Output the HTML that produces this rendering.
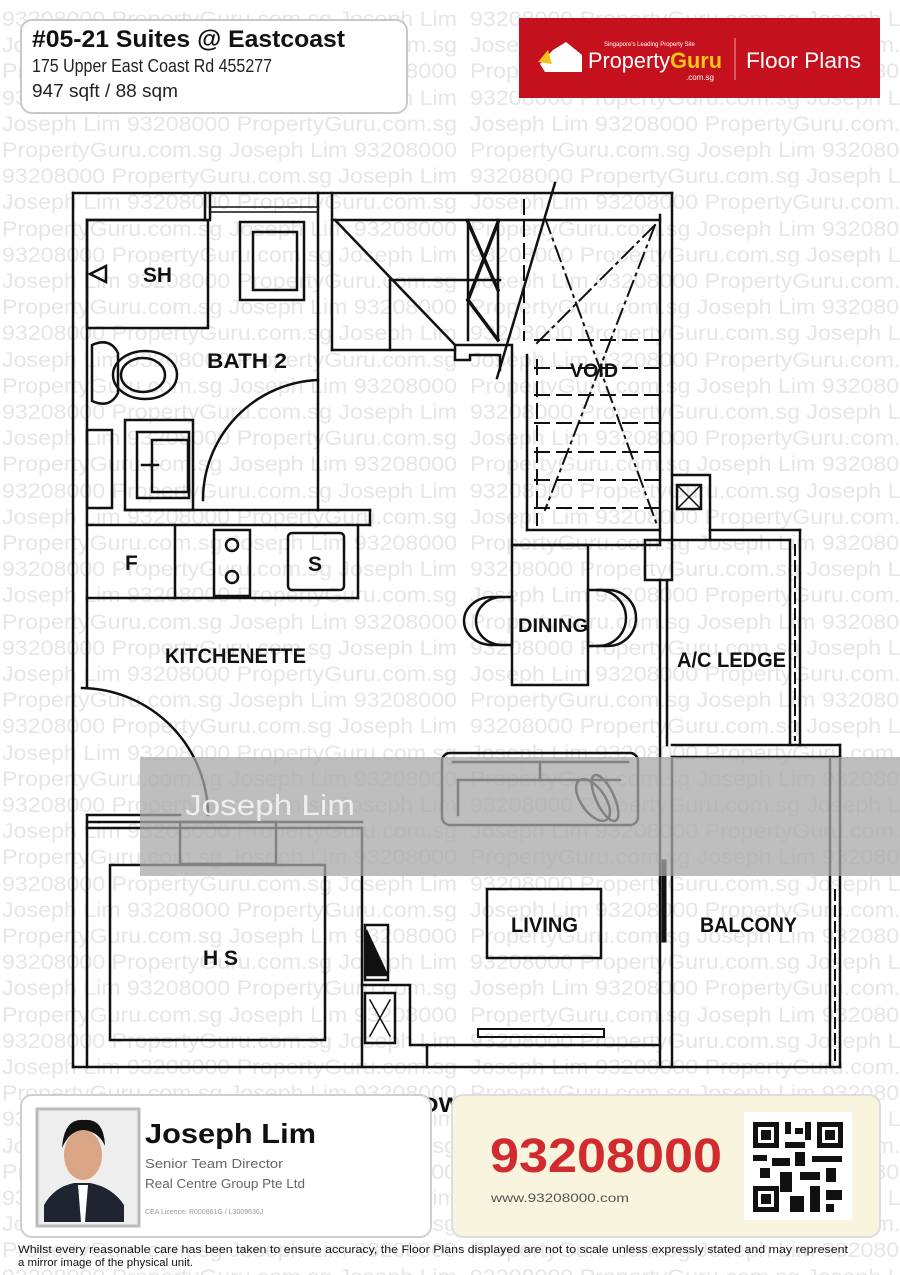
<!DOCTYPE html>
<html><head><meta charset="utf-8"><style>
html,body{margin:0;padding:0;background:#fff;}
svg{display:block}
.w{font-family:"Liberation Sans",sans-serif;font-size:21px;fill:#e6e6e6}
.l{font-family:"Liberation Sans",sans-serif;font-size:21px;font-weight:bold;fill:#111}
</style></head><body>
<svg width="900" height="1275" viewBox="0 0 900 1275" xmlns="http://www.w3.org/2000/svg">
<rect width="900" height="1275" fill="#fff"/>
<g class="w" lengthAdjust="spacingAndGlyphs">
<text x="2" y="26" textLength="455" lengthAdjust="spacingAndGlyphs">93208000 PropertyGuru.com.sg Joseph Lim</text><text x="470" y="26" textLength="455" lengthAdjust="spacingAndGlyphs">93208000 PropertyGuru.com.sg Joseph Lim</text>
<text x="2" y="52" textLength="455" lengthAdjust="spacingAndGlyphs">Joseph Lim 93208000 PropertyGuru.com.sg</text><text x="470" y="52" textLength="455" lengthAdjust="spacingAndGlyphs">Joseph Lim 93208000 PropertyGuru.com.sg</text>
<text x="2" y="78" textLength="455" lengthAdjust="spacingAndGlyphs">PropertyGuru.com.sg Joseph Lim 93208000</text><text x="470" y="78" textLength="455" lengthAdjust="spacingAndGlyphs">PropertyGuru.com.sg Joseph Lim 93208000</text>
<text x="2" y="105" textLength="455" lengthAdjust="spacingAndGlyphs">93208000 PropertyGuru.com.sg Joseph Lim</text><text x="470" y="105" textLength="455" lengthAdjust="spacingAndGlyphs">93208000 PropertyGuru.com.sg Joseph Lim</text>
<text x="2" y="131" textLength="455" lengthAdjust="spacingAndGlyphs">Joseph Lim 93208000 PropertyGuru.com.sg</text><text x="470" y="131" textLength="455" lengthAdjust="spacingAndGlyphs">Joseph Lim 93208000 PropertyGuru.com.sg</text>
<text x="2" y="157" textLength="455" lengthAdjust="spacingAndGlyphs">PropertyGuru.com.sg Joseph Lim 93208000</text><text x="470" y="157" textLength="455" lengthAdjust="spacingAndGlyphs">PropertyGuru.com.sg Joseph Lim 93208000</text>
<text x="2" y="183" textLength="455" lengthAdjust="spacingAndGlyphs">93208000 PropertyGuru.com.sg Joseph Lim</text><text x="470" y="183" textLength="455" lengthAdjust="spacingAndGlyphs">93208000 PropertyGuru.com.sg Joseph Lim</text>
<text x="2" y="209" textLength="455" lengthAdjust="spacingAndGlyphs">Joseph Lim 93208000 PropertyGuru.com.sg</text><text x="470" y="209" textLength="455" lengthAdjust="spacingAndGlyphs">Joseph Lim 93208000 PropertyGuru.com.sg</text>
<text x="2" y="236" textLength="455" lengthAdjust="spacingAndGlyphs">PropertyGuru.com.sg Joseph Lim 93208000</text><text x="470" y="236" textLength="455" lengthAdjust="spacingAndGlyphs">PropertyGuru.com.sg Joseph Lim 93208000</text>
<text x="2" y="262" textLength="455" lengthAdjust="spacingAndGlyphs">93208000 PropertyGuru.com.sg Joseph Lim</text><text x="470" y="262" textLength="455" lengthAdjust="spacingAndGlyphs">93208000 PropertyGuru.com.sg Joseph Lim</text>
<text x="2" y="288" textLength="455" lengthAdjust="spacingAndGlyphs">Joseph Lim 93208000 PropertyGuru.com.sg</text><text x="470" y="288" textLength="455" lengthAdjust="spacingAndGlyphs">Joseph Lim 93208000 PropertyGuru.com.sg</text>
<text x="2" y="314" textLength="455" lengthAdjust="spacingAndGlyphs">PropertyGuru.com.sg Joseph Lim 93208000</text><text x="470" y="314" textLength="455" lengthAdjust="spacingAndGlyphs">PropertyGuru.com.sg Joseph Lim 93208000</text>
<text x="2" y="340" textLength="455" lengthAdjust="spacingAndGlyphs">93208000 PropertyGuru.com.sg Joseph Lim</text><text x="470" y="340" textLength="455" lengthAdjust="spacingAndGlyphs">93208000 PropertyGuru.com.sg Joseph Lim</text>
<text x="2" y="367" textLength="455" lengthAdjust="spacingAndGlyphs">Joseph Lim 93208000 PropertyGuru.com.sg</text><text x="470" y="367" textLength="455" lengthAdjust="spacingAndGlyphs">Joseph Lim 93208000 PropertyGuru.com.sg</text>
<text x="2" y="393" textLength="455" lengthAdjust="spacingAndGlyphs">PropertyGuru.com.sg Joseph Lim 93208000</text><text x="470" y="393" textLength="455" lengthAdjust="spacingAndGlyphs">PropertyGuru.com.sg Joseph Lim 93208000</text>
<text x="2" y="419" textLength="455" lengthAdjust="spacingAndGlyphs">93208000 PropertyGuru.com.sg Joseph Lim</text><text x="470" y="419" textLength="455" lengthAdjust="spacingAndGlyphs">93208000 PropertyGuru.com.sg Joseph Lim</text>
<text x="2" y="445" textLength="455" lengthAdjust="spacingAndGlyphs">Joseph Lim 93208000 PropertyGuru.com.sg</text><text x="470" y="445" textLength="455" lengthAdjust="spacingAndGlyphs">Joseph Lim 93208000 PropertyGuru.com.sg</text>
<text x="2" y="471" textLength="455" lengthAdjust="spacingAndGlyphs">PropertyGuru.com.sg Joseph Lim 93208000</text><text x="470" y="471" textLength="455" lengthAdjust="spacingAndGlyphs">PropertyGuru.com.sg Joseph Lim 93208000</text>
<text x="2" y="498" textLength="455" lengthAdjust="spacingAndGlyphs">93208000 PropertyGuru.com.sg Joseph Lim</text><text x="470" y="498" textLength="455" lengthAdjust="spacingAndGlyphs">93208000 PropertyGuru.com.sg Joseph Lim</text>
<text x="2" y="524" textLength="455" lengthAdjust="spacingAndGlyphs">Joseph Lim 93208000 PropertyGuru.com.sg</text><text x="470" y="524" textLength="455" lengthAdjust="spacingAndGlyphs">Joseph Lim 93208000 PropertyGuru.com.sg</text>
<text x="2" y="550" textLength="455" lengthAdjust="spacingAndGlyphs">PropertyGuru.com.sg Joseph Lim 93208000</text><text x="470" y="550" textLength="455" lengthAdjust="spacingAndGlyphs">PropertyGuru.com.sg Joseph Lim 93208000</text>
<text x="2" y="576" textLength="455" lengthAdjust="spacingAndGlyphs">93208000 PropertyGuru.com.sg Joseph Lim</text><text x="470" y="576" textLength="455" lengthAdjust="spacingAndGlyphs">93208000 PropertyGuru.com.sg Joseph Lim</text>
<text x="2" y="602" textLength="455" lengthAdjust="spacingAndGlyphs">Joseph Lim 93208000 PropertyGuru.com.sg</text><text x="470" y="602" textLength="455" lengthAdjust="spacingAndGlyphs">Joseph Lim 93208000 PropertyGuru.com.sg</text>
<text x="2" y="629" textLength="455" lengthAdjust="spacingAndGlyphs">PropertyGuru.com.sg Joseph Lim 93208000</text><text x="470" y="629" textLength="455" lengthAdjust="spacingAndGlyphs">PropertyGuru.com.sg Joseph Lim 93208000</text>
<text x="2" y="655" textLength="455" lengthAdjust="spacingAndGlyphs">93208000 PropertyGuru.com.sg Joseph Lim</text><text x="470" y="655" textLength="455" lengthAdjust="spacingAndGlyphs">93208000 PropertyGuru.com.sg Joseph Lim</text>
<text x="2" y="681" textLength="455" lengthAdjust="spacingAndGlyphs">Joseph Lim 93208000 PropertyGuru.com.sg</text><text x="470" y="681" textLength="455" lengthAdjust="spacingAndGlyphs">Joseph Lim 93208000 PropertyGuru.com.sg</text>
<text x="2" y="707" textLength="455" lengthAdjust="spacingAndGlyphs">PropertyGuru.com.sg Joseph Lim 93208000</text><text x="470" y="707" textLength="455" lengthAdjust="spacingAndGlyphs">PropertyGuru.com.sg Joseph Lim 93208000</text>
<text x="2" y="733" textLength="455" lengthAdjust="spacingAndGlyphs">93208000 PropertyGuru.com.sg Joseph Lim</text><text x="470" y="733" textLength="455" lengthAdjust="spacingAndGlyphs">93208000 PropertyGuru.com.sg Joseph Lim</text>
<text x="2" y="760" textLength="455" lengthAdjust="spacingAndGlyphs">Joseph Lim 93208000 PropertyGuru.com.sg</text><text x="470" y="760" textLength="455" lengthAdjust="spacingAndGlyphs">Joseph Lim 93208000 PropertyGuru.com.sg</text>
<text x="2" y="786" textLength="455" lengthAdjust="spacingAndGlyphs">PropertyGuru.com.sg Joseph Lim 93208000</text><text x="470" y="786" textLength="455" lengthAdjust="spacingAndGlyphs">PropertyGuru.com.sg Joseph Lim 93208000</text>
<text x="2" y="812" textLength="455" lengthAdjust="spacingAndGlyphs">93208000 PropertyGuru.com.sg Joseph Lim</text><text x="470" y="812" textLength="455" lengthAdjust="spacingAndGlyphs">93208000 PropertyGuru.com.sg Joseph Lim</text>
<text x="2" y="838" textLength="455" lengthAdjust="spacingAndGlyphs">Joseph Lim 93208000 PropertyGuru.com.sg</text><text x="470" y="838" textLength="455" lengthAdjust="spacingAndGlyphs">Joseph Lim 93208000 PropertyGuru.com.sg</text>
<text x="2" y="864" textLength="455" lengthAdjust="spacingAndGlyphs">PropertyGuru.com.sg Joseph Lim 93208000</text><text x="470" y="864" textLength="455" lengthAdjust="spacingAndGlyphs">PropertyGuru.com.sg Joseph Lim 93208000</text>
<text x="2" y="891" textLength="455" lengthAdjust="spacingAndGlyphs">93208000 PropertyGuru.com.sg Joseph Lim</text><text x="470" y="891" textLength="455" lengthAdjust="spacingAndGlyphs">93208000 PropertyGuru.com.sg Joseph Lim</text>
<text x="2" y="917" textLength="455" lengthAdjust="spacingAndGlyphs">Joseph Lim 93208000 PropertyGuru.com.sg</text><text x="470" y="917" textLength="455" lengthAdjust="spacingAndGlyphs">Joseph Lim 93208000 PropertyGuru.com.sg</text>
<text x="2" y="943" textLength="455" lengthAdjust="spacingAndGlyphs">PropertyGuru.com.sg Joseph Lim 93208000</text><text x="470" y="943" textLength="455" lengthAdjust="spacingAndGlyphs">PropertyGuru.com.sg Joseph Lim 93208000</text>
<text x="2" y="969" textLength="455" lengthAdjust="spacingAndGlyphs">93208000 PropertyGuru.com.sg Joseph Lim</text><text x="470" y="969" textLength="455" lengthAdjust="spacingAndGlyphs">93208000 PropertyGuru.com.sg Joseph Lim</text>
<text x="2" y="995" textLength="455" lengthAdjust="spacingAndGlyphs">Joseph Lim 93208000 PropertyGuru.com.sg</text><text x="470" y="995" textLength="455" lengthAdjust="spacingAndGlyphs">Joseph Lim 93208000 PropertyGuru.com.sg</text>
<text x="2" y="1022" textLength="455" lengthAdjust="spacingAndGlyphs">PropertyGuru.com.sg Joseph Lim 93208000</text><text x="470" y="1022" textLength="455" lengthAdjust="spacingAndGlyphs">PropertyGuru.com.sg Joseph Lim 93208000</text>
<text x="2" y="1048" textLength="455" lengthAdjust="spacingAndGlyphs">93208000 PropertyGuru.com.sg Joseph Lim</text><text x="470" y="1048" textLength="455" lengthAdjust="spacingAndGlyphs">93208000 PropertyGuru.com.sg Joseph Lim</text>
<text x="2" y="1074" textLength="455" lengthAdjust="spacingAndGlyphs">Joseph Lim 93208000 PropertyGuru.com.sg</text><text x="470" y="1074" textLength="455" lengthAdjust="spacingAndGlyphs">Joseph Lim 93208000 PropertyGuru.com.sg</text>
<text x="2" y="1100" textLength="455" lengthAdjust="spacingAndGlyphs">PropertyGuru.com.sg Joseph Lim 93208000</text><text x="470" y="1100" textLength="455" lengthAdjust="spacingAndGlyphs">PropertyGuru.com.sg Joseph Lim 93208000</text>
<text x="2" y="1126" textLength="455" lengthAdjust="spacingAndGlyphs">93208000 PropertyGuru.com.sg Joseph Lim</text><text x="470" y="1126" textLength="455" lengthAdjust="spacingAndGlyphs">93208000 PropertyGuru.com.sg Joseph Lim</text>
<text x="2" y="1153" textLength="455" lengthAdjust="spacingAndGlyphs">Joseph Lim 93208000 PropertyGuru.com.sg</text><text x="470" y="1153" textLength="455" lengthAdjust="spacingAndGlyphs">Joseph Lim 93208000 PropertyGuru.com.sg</text>
<text x="2" y="1179" textLength="455" lengthAdjust="spacingAndGlyphs">PropertyGuru.com.sg Joseph Lim 93208000</text><text x="470" y="1179" textLength="455" lengthAdjust="spacingAndGlyphs">PropertyGuru.com.sg Joseph Lim 93208000</text>
<text x="2" y="1205" textLength="455" lengthAdjust="spacingAndGlyphs">93208000 PropertyGuru.com.sg Joseph Lim</text><text x="470" y="1205" textLength="455" lengthAdjust="spacingAndGlyphs">93208000 PropertyGuru.com.sg Joseph Lim</text>
<text x="2" y="1231" textLength="455" lengthAdjust="spacingAndGlyphs">Joseph Lim 93208000 PropertyGuru.com.sg</text><text x="470" y="1231" textLength="455" lengthAdjust="spacingAndGlyphs">Joseph Lim 93208000 PropertyGuru.com.sg</text>
<text x="2" y="1257" textLength="455" lengthAdjust="spacingAndGlyphs">PropertyGuru.com.sg Joseph Lim 93208000</text><text x="470" y="1257" textLength="455" lengthAdjust="spacingAndGlyphs">PropertyGuru.com.sg Joseph Lim 93208000</text>
<text x="2" y="1284" textLength="455" lengthAdjust="spacingAndGlyphs">93208000 PropertyGuru.com.sg Joseph Lim</text><text x="470" y="1284" textLength="455" lengthAdjust="spacingAndGlyphs">93208000 PropertyGuru.com.sg Joseph Lim</text>
</g>

<!-- header -->
<rect x="21" y="20" width="386" height="93" rx="11" fill="#fff" stroke="#c8c8c8" stroke-width="2"/>
<text x="32" y="47" font-family="Liberation Sans,sans-serif" font-size="24" font-weight="bold" fill="#111" textLength="313" lengthAdjust="spacingAndGlyphs">#05-21  Suites @ Eastcoast</text>
<text x="32" y="72" font-family="Liberation Sans,sans-serif" font-size="18" fill="#222" textLength="240" lengthAdjust="spacingAndGlyphs">175 Upper East Coast Rd 455277</text>
<text x="32" y="97" font-family="Liberation Sans,sans-serif" font-size="18" fill="#222" textLength="146" lengthAdjust="spacingAndGlyphs">947 sqft / 88 sqm</text>

<rect x="519" y="18" width="361" height="80" fill="#c4111d"/>
<path d="M540 64 L553 50 L566 42 L582 55 L582 72 L545 72 Z" fill="#fff"/>
<path d="M538 62 L548 50 L552 64 Z" fill="#f5c018"/>
<text x="588" y="68" font-family="Liberation Sans,sans-serif" font-size="22" fill="#fff" textLength="134" lengthAdjust="spacingAndGlyphs">Property<tspan fill="#f5c518" font-weight="bold">Guru</tspan></text>
<text x="686" y="80" font-family="Liberation Sans,sans-serif" font-size="8" fill="#fff">.com.sg</text>
<text x="604" y="46" font-family="Liberation Sans,sans-serif" font-size="6" fill="#fff">Singapore's Leading Property Site</text>
<line x1="735" y1="38" x2="735" y2="80" stroke="#f0a0a0" stroke-width="1"/>
<text x="746" y="68" font-family="Liberation Sans,sans-serif" font-size="22" fill="#fff" textLength="115" lengthAdjust="spacingAndGlyphs">Floor Plans</text>

<!-- floor plan -->
<g stroke="#111" stroke-width="2.5" fill="none" stroke-linecap="square">
<line x1="73" y1="193" x2="73" y2="1067"/>
<line x1="87" y1="220" x2="87" y2="688"/>
<line x1="87" y1="815" x2="87" y2="1067"/>
<line x1="73" y1="193" x2="672" y2="193"/>
<line x1="87" y1="220" x2="205" y2="220"/>
<line x1="205" y1="193" x2="205" y2="220"/><line x1="210" y1="193" x2="210" y2="220"/>
<line x1="210" y1="207" x2="318" y2="207" stroke-width="1.5"/>
<line x1="210" y1="212" x2="318" y2="212" stroke-width="1.5"/>
<line x1="318" y1="193" x2="318" y2="510"/>
<line x1="332" y1="193" x2="332" y2="350"/>
<line x1="332" y1="220" x2="660" y2="220"/>
<line x1="660" y1="215" x2="660" y2="545"/>
<line x1="672" y1="193" x2="672" y2="475"/>
<rect x="87" y="220" width="121" height="108"/>
<path d="M106 266 L90 274 L106 282 Z"/>
<path d="M92 345 q18 -8 26 8 v40 q-8 16 -26 8 z"/>
<ellipse cx="145" cy="375" rx="32" ry="24"/>
<ellipse cx="143" cy="375" rx="22" ry="17"/>
<rect x="87" y="430" width="25" height="78"/>
<rect x="125" y="420" width="68" height="90"/>
<rect x="137" y="432" width="52" height="66"/>
<rect x="152" y="440" width="36" height="52"/>
<line x1="142" y1="465" x2="158" y2="465"/>
<path d="M318 380 A120 120 0 0 0 203 500"/>
<line x1="125" y1="510" x2="318" y2="510"/>
<line x1="87" y1="525" x2="370" y2="525"/>
<line x1="318" y1="510" x2="370" y2="510"/>
<line x1="370" y1="510" x2="370" y2="525"/>
<rect x="240" y="222" width="64" height="78"/>
<rect x="253" y="232" width="44" height="58"/>
<line x1="87" y1="598" x2="358" y2="598"/>
<line x1="358" y1="525" x2="358" y2="598"/>
<line x1="175" y1="525" x2="175" y2="598"/>
<rect x="214" y="530" width="36" height="66"/>
<circle cx="232" cy="545" r="6"/><circle cx="232" cy="577" r="6"/>
<rect x="288" y="533" width="56" height="57" rx="4"/>
<path d="M335 220 L455 345"/>
<line x1="390" y1="280" x2="500" y2="280"/>
<line x1="390" y1="280" x2="390" y2="350"/>
<line x1="332" y1="350" x2="455" y2="350"/>
<line x1="468" y1="220" x2="468" y2="340"/>
<line x1="498" y1="220" x2="498" y2="340"/>
<path d="M468 222 L498 290 M498 222 L468 300 M468 300 L498 340" stroke-width="3.5"/>
<path d="M455 345 H512 V545 H660 M455 345 V360 H470 V355 H500 V370 H500"/>
<line x1="527" y1="355" x2="527" y2="530"/>
<line x1="527" y1="530" x2="660" y2="530"/>
<line x1="555" y1="183" x2="497" y2="378"/>
<g stroke-dasharray="14 8" stroke-width="2">
<line x1="535" y1="340" x2="660" y2="340"/><line x1="535" y1="368" x2="660" y2="368"/>
<line x1="535" y1="395" x2="660" y2="395"/><line x1="535" y1="423" x2="660" y2="423"/>
<line x1="535" y1="452" x2="660" y2="452"/><line x1="535" y1="480" x2="660" y2="480"/>
<line x1="535" y1="508" x2="660" y2="508"/>
<line x1="537" y1="360" x2="537" y2="525"/>
<line x1="524" y1="200" x2="524" y2="340"/>
</g>
<g stroke-dasharray="16 6 2 6" stroke-width="2">
<line x1="545" y1="218" x2="657" y2="525"/>
<line x1="655" y1="225" x2="545" y2="510"/>
<line x1="537" y1="343" x2="655" y2="225"/>
</g>
<rect x="672" y="475" width="38" height="65"/>
<rect x="677" y="485" width="24" height="24"/>
<path d="M677 485 L701 509 M701 485 L677 509" stroke-width="1.5"/>
<rect x="645" y="540" width="27" height="40"/>
<line x1="660" y1="580" x2="660" y2="1067"/>
<line x1="667" y1="580" x2="667" y2="745"/>
<line x1="710" y1="530" x2="800" y2="530"/>
<line x1="710" y1="540" x2="790" y2="540"/>
<line x1="800" y1="530" x2="800" y2="745"/>
<line x1="790" y1="540" x2="790" y2="745"/>
<line x1="795" y1="545" x2="795" y2="740" stroke-dasharray="10 6" stroke-width="2"/>
<line x1="672" y1="745" x2="840" y2="745"/>
<line x1="672" y1="757" x2="840" y2="757"/>
<line x1="840" y1="745" x2="840" y2="757"/>
<rect x="512" y="545" width="76" height="140"/>
<path d="M512 597 h-20 a28 24 0 0 0 0 48 h20 z"/>
<path d="M502 597 a26 24 0 0 0 0 48"/>
<path d="M588 590 h20 a28 28 0 0 1 0 56 h-20 z"/>
<path d="M598 590 a28 28 0 0 1 0 56"/>
<path d="M82 688 A128 128 0 0 1 208 815"/>
<line x1="87" y1="815" x2="180" y2="815"/>
<line x1="87" y1="822" x2="362" y2="822"/>
<line x1="87" y1="828" x2="362" y2="828"/>
<line x1="362" y1="828" x2="362" y2="1067"/>
<rect x="180" y="822" width="96" height="42"/>
<rect x="110" y="865" width="215" height="175"/>
<rect x="365" y="925" width="23" height="55"/>
<path d="M366 930 L387 975 L366 975 Z" fill="#111"/>
<rect x="365" y="993" width="30" height="50"/>
<path d="M370 1000 L390 1036 M390 1000 L370 1036" stroke-width="1.5"/>
<polyline points="362,985 410,985 410,1045 660,1045"/>
<line x1="427" y1="1045" x2="427" y2="1067"/>
<line x1="73" y1="1067" x2="840" y2="1067"/>
<rect x="442" y="753" width="196" height="72" rx="8"/>
<line x1="453" y1="762" x2="628" y2="762"/>
<line x1="458" y1="780" x2="620" y2="780"/>
<line x1="458" y1="780" x2="458" y2="815"/>
<line x1="540" y1="762" x2="540" y2="780"/>
<ellipse cx="593" cy="800" rx="12" ry="24" transform="rotate(-35 593 800)"/>
<ellipse cx="605" cy="798" rx="9" ry="25" transform="rotate(-25 605 798)"/>
<rect x="487" y="889" width="114" height="69"/>
<path d="M478 1029 H604 V1037 H478 Z" stroke-width="2"/>
<line x1="830" y1="757" x2="830" y2="1067"/>
<line x1="840" y1="757" x2="840" y2="1067"/>
<line x1="835" y1="890" x2="835" y2="1060" stroke-dasharray="10 6" stroke-width="2"/>
<line x1="664" y1="862" x2="664" y2="940" stroke-width="5"/>
<line x1="672" y1="757" x2="672" y2="1067"/>
</g>

<rect x="140" y="757" width="760" height="119" fill="#a8a8a8" opacity="0.75"/>
<text x="185" y="815" font-family="Liberation Sans,sans-serif" font-size="29" fill="#f4f4f4" opacity="0.9" textLength="170" lengthAdjust="spacingAndGlyphs">Joseph Lim</text>

<g class="l">
<text x="143" y="282" textLength="29" lengthAdjust="spacingAndGlyphs">SH</text>
<text x="207" y="368" textLength="80" lengthAdjust="spacingAndGlyphs">BATH 2</text>
<text x="125" y="570">F</text>
<text x="308" y="571">S</text>
<text x="570" y="377" font-size="19" textLength="48" lengthAdjust="spacingAndGlyphs">VOID</text>
<text x="518" y="632" font-size="19" textLength="70" lengthAdjust="spacingAndGlyphs">DINING</text>
<text x="165" y="663" textLength="141" lengthAdjust="spacingAndGlyphs">KITCHENETTE</text>
<text x="677" y="667" textLength="109" lengthAdjust="spacingAndGlyphs">A/C LEDGE</text>
<text x="511" y="932" textLength="67" lengthAdjust="spacingAndGlyphs">LIVING</text>
<text x="700" y="932" textLength="97" lengthAdjust="spacingAndGlyphs">BALCONY</text>
<text x="203" y="965" textLength="35" lengthAdjust="spacingAndGlyphs">H S</text>
<text x="405" y="1112" textLength="90" lengthAdjust="spacingAndGlyphs">LOWER</text>
</g>

<rect x="21" y="1095" width="410" height="142" rx="11" fill="#fff" stroke="#cfcfcf" stroke-width="2"/>
<rect x="37" y="1109" width="102" height="117" fill="#eee" stroke="#bbb" stroke-width="3"/>
<path d="M44 1222 V1205 q10 -18 30 -22 h16 q22 4 34 22 V1222 Z" fill="#1f2530"/>
<ellipse cx="83" cy="1155" rx="19" ry="25" fill="#d9a585"/>
<path d="M62 1148 q2 -30 22 -28 q20 -2 21 26 q-6 -14 -21 -16 q-14 0 -22 18z" fill="#111"/>
<path d="M78 1185 L88 1185 L85 1222 L81 1222 Z" fill="#fff"/>
<text x="145" y="1143" font-family="Liberation Sans,sans-serif" font-size="28" font-weight="bold" fill="#111" textLength="171" lengthAdjust="spacingAndGlyphs">Joseph Lim</text>
<text x="145" y="1168" font-family="Liberation Sans,sans-serif" font-size="13" fill="#666" textLength="138" lengthAdjust="spacingAndGlyphs">Senior Team Director</text>
<text x="145" y="1188" font-family="Liberation Sans,sans-serif" font-size="13" fill="#666" textLength="160" lengthAdjust="spacingAndGlyphs">Real Centre Group Pte Ltd</text>
<text x="145" y="1214" font-family="Liberation Sans,sans-serif" font-size="7" fill="#999">CEA Licence: R000861G / L3009636J</text>

<rect x="452" y="1095" width="428" height="142" rx="11" fill="#f8f4de" stroke="#dedede" stroke-width="2"/>
<text x="490" y="1172" font-family="Liberation Sans,sans-serif" font-size="48" font-weight="bold" fill="#d12a2f" textLength="232" lengthAdjust="spacingAndGlyphs">93208000</text>
<text x="491" y="1202" font-family="Liberation Sans,sans-serif" font-size="12" fill="#555" textLength="138" lengthAdjust="spacingAndGlyphs">www.93208000.com</text>
<rect x="744" y="1112" width="108" height="108" fill="#fff"/>
<g fill="#111">
<rect x="753" y="1122" width="26" height="26"/><rect x="758" y="1127" width="16" height="16" fill="#fff"/><rect x="761" y="1130" width="10" height="10"/>
<rect x="817" y="1122" width="26" height="26"/><rect x="822" y="1127" width="16" height="16" fill="#fff"/><rect x="825" y="1130" width="10" height="10"/>
<rect x="753" y="1186" width="26" height="26"/><rect x="758" y="1191" width="16" height="16" fill="#fff"/><rect x="761" y="1194" width="10" height="10"/>
<rect x="785" y="1122" width="6" height="12"/><rect x="795" y="1128" width="8" height="6"/><rect x="805" y="1122" width="6" height="18"/>
<rect x="785" y="1142" width="20" height="6"/><rect x="753" y="1155" width="14" height="6"/><rect x="772" y="1158" width="18" height="8"/>
<rect x="795" y="1152" width="10" height="14"/><rect x="812" y="1156" width="30" height="6"/><rect x="760" y="1168" width="10" height="10"/>
<rect x="780" y="1172" width="12" height="20"/><rect x="800" y="1172" width="20" height="8"/><rect x="826" y="1168" width="10" height="14"/>
<rect x="790" y="1196" width="14" height="16"/><rect x="810" y="1186" width="10" height="26"/><rect x="826" y="1190" width="16" height="10"/>
<rect x="826" y="1204" width="8" height="8"/>
</g>

<text x="18" y="1253" font-family="Liberation Sans,sans-serif" font-size="11" fill="#111" textLength="830" lengthAdjust="spacingAndGlyphs">Whilst every reasonable care has been taken to ensure accuracy, the Floor Plans displayed are not to scale unless expressly stated and may represent</text>
<text x="18" y="1266" font-family="Liberation Sans,sans-serif" font-size="11" fill="#111" textLength="175" lengthAdjust="spacingAndGlyphs">a mirror image of the physical unit.</text>
</svg>
</body></html>
